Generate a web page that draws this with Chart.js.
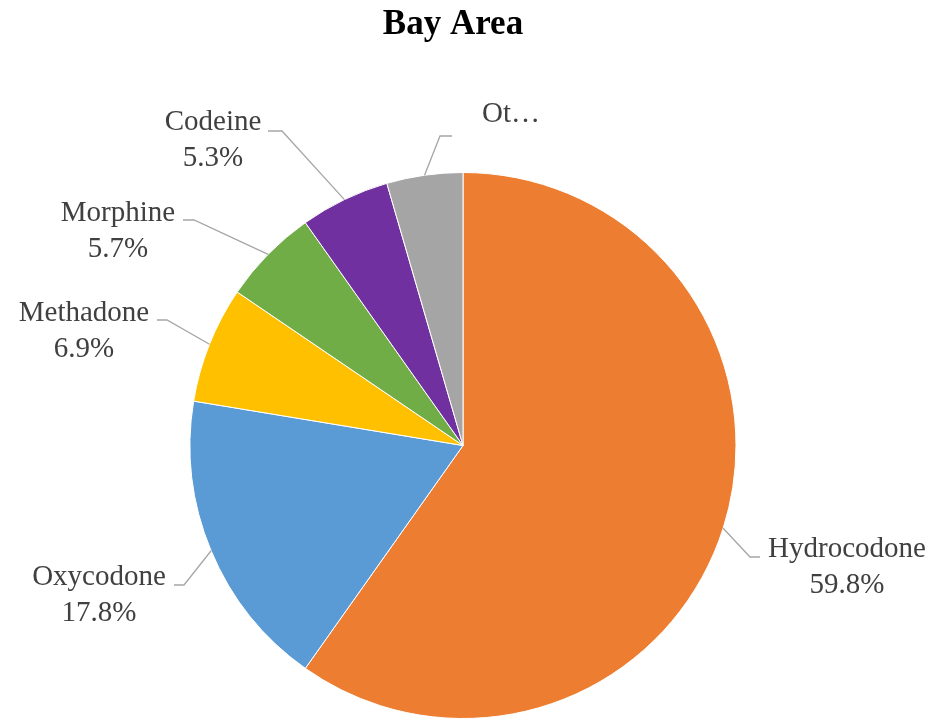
<!DOCTYPE html>
<html>
<head>
<meta charset="utf-8">
<script src="https://cdn.jsdelivr.net/npm/chart.js@4/dist/chart.umd.min.js"></script>
<style>
  html, body { margin: 0; padding: 0; background: #ffffff; }
  #wrap { width: 938px; height: 719px; }
</style>
</head>
<body>
<div id="wrap"><canvas id="c" width="938" height="719"></canvas></div>
<script>
// ---- data ----
const chartTitle = 'Bay Area';
const categories = ['Hydrocodone', 'Oxycodone', 'Methadone', 'Morphine', 'Codeine', 'Other'];
const shownNames = ['Hydrocodone', 'Oxycodone', 'Methadone', 'Morphine', 'Codeine', 'Ot\u2026'];
const shares = [59.8, 17.8, 6.9, 5.7, 5.3, 4.5];
const showPercent = [true, true, true, true, true, false];
const sliceColors = ['#ED7D31', '#5B9BD5', '#FFC000', '#70AD47', '#7030A0', '#A5A5A5'];

// ---- label layout (text anchor, elbow, line end) ----
const labelLayout = [
  { tx: 847, ty: 557, ex: 750, ey: 557, hx: 760 },
  { tx: 99,  ty: 585, ex: 184, ey: 585, hx: 174 },
  { tx: 84,  ty: 321, ex: 167, ey: 320, hx: 157 },
  { tx: 118, ty: 221, ex: 194, ey: 220, hx: 183 },
  { tx: 213, ty: 130, ex: 282, ey: 131, hx: 268 },
  { tx: 511, ty: 122, ex: 440, ey: 136, hx: 452 }
];

const labelFont = '29px "Liberation Serif", "Times New Roman", serif';
const titleFont = 'bold 35px "Liberation Serif", "Times New Roman", serif';

const labelPlugin = {
  id: 'pieLabels',
  afterDatasetsDraw(chart) {
    const ctx = chart.ctx;
    const meta = chart.getDatasetMeta(0);
    ctx.save();
    // title
    ctx.fillStyle = '#000000';
    ctx.font = titleFont;
    ctx.textAlign = 'center';
    ctx.textBaseline = 'alphabetic';
    ctx.fillText(chartTitle, 453, 34);

    meta.data.forEach((arc, i) => {
      const p = arc.getProps(['x', 'y', 'startAngle', 'endAngle', 'outerRadius'], true);
      const mid = (p.startAngle + p.endAngle) / 2;
      const sx = p.x + Math.cos(mid) * p.outerRadius;
      const sy = p.y + Math.sin(mid) * p.outerRadius;
      const L = labelLayout[i];
      ctx.strokeStyle = '#A6A6A6';
      ctx.lineWidth = 1.3;
      ctx.beginPath();
      ctx.moveTo(sx, sy);
      ctx.lineTo(L.ex, L.ey);
      ctx.lineTo(L.hx, L.ey);
      ctx.stroke();

      ctx.fillStyle = '#404040';
      ctx.font = labelFont;
      ctx.textAlign = 'center';
      ctx.fillText(shownNames[i], L.tx, L.ty);
      if (showPercent[i]) {
        ctx.fillText(shares[i].toFixed(1) + '%', L.tx, L.ty + 36);
      }
    });
    ctx.restore();
  }
};

new Chart(document.getElementById('c'), {
  type: 'pie',
  data: {
    labels: categories,
    datasets: [{
      data: shares,
      backgroundColor: sliceColors,
      borderColor: '#ffffff',
      borderWidth: 1
    }]
  },
  options: {
    responsive: false,
    devicePixelRatio: 1,
    animation: false,
    layout: { padding: { top: 172, bottom: 0, left: 150, right: 162 } },
    plugins: {
      legend: { display: false },
      tooltip: { enabled: false },
      title: { display: false }
    }
  },
  plugins: [labelPlugin]
});
</script>
</body>
</html>
